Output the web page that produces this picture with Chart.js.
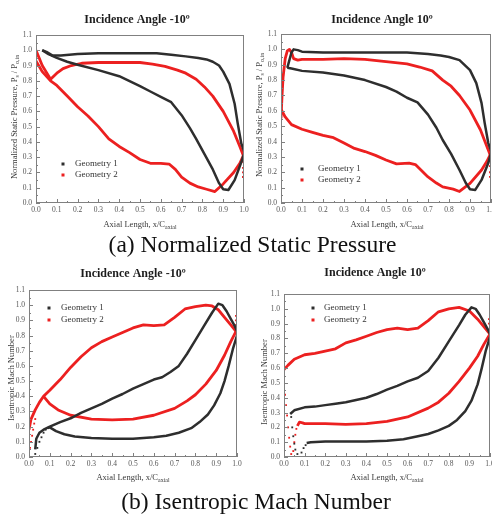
<!DOCTYPE html>
<html>
<head>
<meta charset="utf-8">
<script src="https://cdn.jsdelivr.net/npm/chart.js@4.4.1/dist/chart.umd.min.js"></script>
<style>
html, body { margin: 0; padding: 0; background: #fff; overflow: hidden; }
#wrap { position: relative; width: 492px; height: 515px; overflow: hidden; }
.panel { position: absolute; }
.cap { position: absolute; left: 0; text-align: center; font-family: "Liberation Serif", serif;
       font-size: 23.5px; line-height: 26px; color: #111; white-space: nowrap; }
</style>
</head>
<body>
<div id="wrap">
  <canvas class="panel" id="pA1" width="256" height="240" style="left:0;top:0"></canvas>
  <canvas class="panel" id="pA2" width="260" height="240" style="left:246px;top:0"></canvas>
  <canvas class="panel" id="pB1" width="256" height="232" style="left:0;top:258px"></canvas>
  <canvas class="panel" id="pB2" width="260" height="232" style="left:246px;top:258px"></canvas>
  <div class="cap" style="top:231px;width:505px">(a) Normalized Static Pressure</div>
  <div class="cap" style="top:488px;width:512px">(b) Isentropic Mach Number</div>
</div>
<script>
// tick labels
var xTickLabels = ['0.0', '0.1', '0.2', '0.3', '0.4', '0.5', '0.6', '0.7', '0.8', '0.9', '1.0'];
var yTickLabels = ['0.0', '0.1', '0.2', '0.3', '0.4', '0.5', '0.6', '0.7', '0.8', '0.9', '1.0', '1.1'];
var seriesNames = ['Geometry 1', 'Geometry 2'];

// (a) Normalized static pressure, incidence -10
var a1Geo1Upper = [[0.03,1.0],[0.05,0.99],[0.08,0.965],[0.12,0.965],[0.2,0.975],[0.3,0.98],[0.4,0.98],[0.5,0.98],[0.58,0.98],[0.65,0.97],[0.72,0.96],[0.78,0.95],[0.82,0.94],[0.85,0.925],[0.88,0.9],[0.9,0.86],[0.93,0.78],[0.955,0.65],[0.97,0.52],[0.987,0.39],[1.0,0.34]];
var a1Geo1Lower = [[0.03,1.0],[0.06,0.975],[0.1,0.95],[0.15,0.925],[0.2,0.905],[0.3,0.87],[0.4,0.83],[0.5,0.765],[0.55,0.73],[0.6,0.695],[0.65,0.66],[0.7,0.575],[0.74,0.49],[0.77,0.42],[0.81,0.32],[0.85,0.22],[0.88,0.13],[0.9,0.09],[0.925,0.085],[0.955,0.15],[0.985,0.26],[1.0,0.32]];
var a1Geo2Upper = [[0.0,1.0],[0.03,0.9],[0.07,0.81],[0.1,0.85],[0.13,0.88],[0.17,0.9],[0.22,0.915],[0.3,0.92],[0.4,0.92],[0.5,0.92],[0.56,0.91],[0.62,0.895],[0.68,0.87],[0.72,0.85],[0.77,0.81],[0.81,0.76],[0.85,0.7],[0.9,0.6],[0.95,0.47],[0.98,0.37],[1.0,0.3]];
var a1Geo2Lower = [[0.0,0.93],[0.03,0.86],[0.07,0.8],[0.1,0.77],[0.15,0.7],[0.2,0.63],[0.25,0.57],[0.3,0.5],[0.35,0.42],[0.4,0.37],[0.45,0.33],[0.5,0.285],[0.55,0.26],[0.6,0.26],[0.64,0.255],[0.67,0.22],[0.7,0.17],[0.74,0.13],[0.78,0.105],[0.82,0.09],[0.86,0.075],[0.9,0.125],[0.95,0.2],[0.98,0.26],[1.0,0.32]];
var a1Geo2Dots = [[0.995,0.27],[0.995,0.23],[0.995,0.2],[0.995,0.17]];

// (a) Normalized static pressure, incidence 10
var a2Geo1Upper = [[0.03,0.88],[0.04,0.93],[0.05,0.98],[0.06,1.0],[0.08,0.995],[0.1,0.985],[0.2,0.98],[0.3,0.98],[0.4,0.98],[0.5,0.98],[0.6,0.98],[0.7,0.97],[0.76,0.96],[0.8,0.95],[0.85,0.93],[0.9,0.865],[0.93,0.78],[0.955,0.65],[0.97,0.52],[0.987,0.39],[1.0,0.34]];
var a2Geo1Lower = [[0.03,0.88],[0.05,0.875],[0.1,0.86],[0.2,0.85],[0.3,0.83],[0.4,0.8],[0.5,0.755],[0.55,0.725],[0.6,0.685],[0.65,0.655],[0.7,0.575],[0.74,0.49],[0.77,0.41],[0.81,0.32],[0.85,0.215],[0.88,0.13],[0.9,0.09],[0.925,0.085],[0.955,0.15],[0.987,0.26],[1.0,0.325]];
var a2Geo2Upper = [[0.0,0.55],[0.005,0.7],[0.01,0.82],[0.02,0.94],[0.03,0.99],[0.04,1.0],[0.05,0.98],[0.06,0.94],[0.08,0.93],[0.1,0.935],[0.2,0.935],[0.3,0.94],[0.4,0.935],[0.5,0.92],[0.6,0.905],[0.66,0.885],[0.72,0.86],[0.77,0.8],[0.81,0.76],[0.85,0.7],[0.9,0.605],[0.95,0.475],[0.98,0.37],[1.0,0.3]];
var a2Geo2Lower = [[0.0,0.61],[0.02,0.56],[0.05,0.51],[0.1,0.48],[0.15,0.46],[0.2,0.44],[0.25,0.425],[0.3,0.39],[0.35,0.355],[0.4,0.335],[0.45,0.31],[0.5,0.28],[0.55,0.255],[0.61,0.26],[0.64,0.25],[0.67,0.21],[0.7,0.17],[0.74,0.13],[0.77,0.105],[0.82,0.09],[0.85,0.075],[0.9,0.128],[0.955,0.215],[0.98,0.27],[1.0,0.325]];
var a2Geo2Dots = [[0.995,0.28],[0.995,0.24],[0.995,0.2],[0.995,0.17]];

// (b) Isentropic Mach number, incidence -10
var b1Geo1Upper = [[0.03,0.05],[0.035,0.12],[0.05,0.16],[0.07,0.18],[0.1,0.2],[0.15,0.23],[0.2,0.255],[0.25,0.29],[0.3,0.32],[0.35,0.35],[0.4,0.385],[0.45,0.415],[0.5,0.45],[0.55,0.48],[0.6,0.51],[0.64,0.525],[0.68,0.56],[0.72,0.6],[0.76,0.68],[0.8,0.77],[0.84,0.86],[0.88,0.95],[0.91,1.01],[0.93,1.0],[0.95,0.96],[0.97,0.91],[0.99,0.86],[1.0,0.83]];
var b1Geo1Lower = [[0.09,0.19],[0.1,0.195],[0.13,0.17],[0.17,0.15],[0.22,0.135],[0.3,0.125],[0.4,0.12],[0.5,0.12],[0.6,0.13],[0.66,0.14],[0.72,0.16],[0.78,0.19],[0.82,0.23],[0.86,0.28],[0.89,0.34],[0.92,0.42],[0.94,0.5],[0.96,0.6],[0.98,0.71],[1.0,0.8]];
var b1Geo1Dots = [[0.02,0.0],[0.03,0.02],[0.04,0.06],[0.05,0.1],[0.06,0.13],[0.07,0.16],[0.08,0.18]];
var b1Geo2Upper = [[0.0,0.18],[0.01,0.25],[0.03,0.31],[0.05,0.36],[0.07,0.4],[0.1,0.44],[0.15,0.51],[0.2,0.59],[0.25,0.66],[0.3,0.72],[0.35,0.76],[0.4,0.79],[0.45,0.82],[0.5,0.85],[0.55,0.87],[0.6,0.865],[0.65,0.87],[0.7,0.92],[0.75,0.975],[0.8,0.99],[0.85,1.0],[0.88,0.995],[0.91,0.97],[0.94,0.92],[0.97,0.87],[1.0,0.82]];
var b1Geo2Lower = [[0.07,0.4],[0.1,0.35],[0.14,0.31],[0.2,0.275],[0.3,0.25],[0.4,0.245],[0.5,0.25],[0.6,0.275],[0.7,0.32],[0.76,0.37],[0.8,0.41],[0.85,0.48],[0.9,0.57],[0.94,0.67],[0.97,0.76],[1.0,0.84]];
var b1Geo2Dots = [[0.0,0.02],[0.005,0.06],[0.01,0.1],[0.015,0.14],[0.02,0.18],[0.025,0.22],[0.03,0.25],[0.995,0.93],[0.995,0.9],[0.99,0.87]];

// (b) Isentropic Mach number, incidence 10
var b2Geo1Upper = [[0.03,0.29],[0.05,0.315],[0.1,0.335],[0.15,0.34],[0.2,0.35],[0.25,0.36],[0.3,0.37],[0.35,0.385],[0.4,0.4],[0.45,0.425],[0.5,0.455],[0.55,0.48],[0.6,0.51],[0.65,0.535],[0.7,0.58],[0.75,0.67],[0.8,0.78],[0.85,0.89],[0.88,0.96],[0.91,1.01],[0.93,1.0],[0.95,0.96],[0.97,0.91],[0.99,0.86],[1.0,0.83]];
var b2Geo1Lower = [[0.11,0.095],[0.13,0.1],[0.2,0.105],[0.3,0.105],[0.4,0.105],[0.5,0.11],[0.58,0.12],[0.65,0.14],[0.7,0.155],[0.75,0.18],[0.8,0.21],[0.84,0.25],[0.88,0.31],[0.91,0.38],[0.94,0.49],[0.96,0.6],[0.98,0.72],[1.0,0.81]];
var b2Geo1Dots = [[0.035,0.27],[0.04,0.2],[0.045,0.14],[0.05,0.09],[0.055,0.05],[0.065,0.02],[0.075,0.0],[0.085,0.03],[0.095,0.06],[0.105,0.08]];
var b2Geo2Upper = [[0.0,0.59],[0.02,0.62],[0.05,0.66],[0.1,0.69],[0.15,0.7],[0.2,0.715],[0.25,0.73],[0.3,0.77],[0.35,0.79],[0.4,0.815],[0.45,0.84],[0.5,0.86],[0.55,0.87],[0.6,0.86],[0.65,0.87],[0.7,0.92],[0.75,0.98],[0.8,1.0],[0.85,1.01],[0.9,0.985],[0.94,0.93],[0.97,0.88],[1.0,0.83]];
var b2Geo2Lower = [[0.065,0.21],[0.075,0.235],[0.09,0.23],[0.1,0.225],[0.2,0.225],[0.3,0.22],[0.4,0.225],[0.5,0.24],[0.6,0.27],[0.7,0.33],[0.75,0.37],[0.8,0.43],[0.85,0.51],[0.9,0.6],[0.94,0.68],[0.97,0.76],[1.0,0.83]];
var b2Geo2Dots = [[0.0,0.5],[0.005,0.42],[0.01,0.35],[0.015,0.28],[0.02,0.2],[0.025,0.13],[0.03,0.07],[0.035,0.02],[0.04,0.0],[0.045,0.04],[0.05,0.1],[0.055,0.15],[0.06,0.19],[0.995,0.93],[0.995,0.9]];

var GEO1 = '#2e2e2e';
var GEO2 = '#ec2020';
var SERIF = '"Liberation Serif", "Times New Roman", serif';

var pressureTitle = [{ t: 'Normalized Static Pressure, P' }, { t: 's', sub: true }, { t: ' / P' }, { t: 'o,in', sub: true }];
var machTitle = [{ t: 'Isentropic Mach Number' }];
var xTitle = [{ t: 'Axial Length, x/C' }, { t: 'axial', sub: true }];

// layout of each panel, in canvas pixels
var panels = {
    pA1: { title: 'Incidence Angle -10\u00ba', yTitle: pressureTitle, pad: { top: 35, right: 12 }, yw: 36, xh: 37,
           titlePos: [137, 20], xTitlePos: [140, 225], yTitlePos: [15, 117], legend: [63, 75, 164, 11] },
    pA2: { title: 'Incidence Angle 10\u00ba', yTitle: pressureTitle, pad: { top: 34, right: 15 }, yw: 35, xh: 37,
           titlePos: [136, 20], xTitlePos: [141, 225], yTitlePos: [14, 115], legend: [56, 72, 169, 11] },
    pB1: { title: 'Incidence Angle -10\u00ba', yTitle: machTitle, pad: { top: 32, right: 19 }, yw: 29, xh: 33,
           titlePos: [133, 16], xTitlePos: [133, 220], yTitlePos: [12, 120], legend: [49, 61, 50, 12] },
    pB2: { title: 'Incidence Angle 10\u00ba', yTitle: machTitle, pad: { top: 36, right: 16 }, yw: 38, xh: 33,
           titlePos: [129, 15], xTitlePos: [141, 220], yTitlePos: [19, 124], legend: [67, 78, 50, 12] }
};

function pts(arr) {
    return arr.map(function (p) { return { x: p[0], y: p[1] }; });
}

function lineSet(arr, color) {
    return { data: pts(arr), showLine: true, borderColor: color, borderWidth: color === GEO2 ? 2.8 : 2.5,
             pointRadius: 0, borderJoinStyle: 'round', fill: false };
}

function dotSet(arr, color) {
    return { data: pts(arr), showLine: false, pointStyle: 'rect', pointRadius: 1.3,
             backgroundColor: color, borderWidth: 0 };
}

// draw text with subscript parts, centred on (cx, cy)
function drawRich(ctx, parts, cx, cy, size) {
    var w = 0;
    parts.forEach(function (p) {
        ctx.font = (p.sub ? size * 0.7 : size) + 'px ' + SERIF;
        p.w = ctx.measureText(p.t).width;
        w += p.w;
    });
    var x = cx - w / 2;
    ctx.textAlign = 'left';
    ctx.textBaseline = 'middle';
    parts.forEach(function (p) {
        ctx.font = (p.sub ? size * 0.7 : size) + 'px ' + SERIF;
        ctx.fillText(p.t, x, p.sub ? cy + size * 0.3 : cy);
        x += p.w;
    });
}

var panelDecor = {
    id: 'panelDecor',
    afterDraw: function (chart) {
        var cfg = panels[chart.canvas.id];
        var ctx = chart.ctx, a = chart.chartArea;
        var xs = chart.scales.x, ys = chart.scales.y;
        ctx.save();

        // frame
        ctx.strokeStyle = '#808080';
        ctx.lineWidth = 1;
        ctx.strokeRect(Math.round(a.left) + 0.5, Math.round(a.top) + 0.5, Math.round(a.width) - 1, Math.round(a.height) - 1);

        // inward ticks, major and minor
        ctx.beginPath();
        var xv = xTickLabels.map(parseFloat), yv = yTickLabels.map(parseFloat);
        xv.forEach(function (v, i) {
            var px = Math.round(xs.getPixelForValue(v)) + 0.5;
            ctx.moveTo(px, a.bottom); ctx.lineTo(px, a.bottom - 4);
            if (i < xv.length - 1) {
                var mx = Math.round(xs.getPixelForValue((v + xv[i + 1]) / 2)) + 0.5;
                ctx.moveTo(mx, a.bottom); ctx.lineTo(mx, a.bottom - 2);
            }
        });
        yv.forEach(function (v, i) {
            var py = Math.round(ys.getPixelForValue(v)) + 0.5;
            ctx.moveTo(a.left, py); ctx.lineTo(a.left + 4, py);
            if (i < yv.length - 1) {
                var my = Math.round(ys.getPixelForValue((v + yv[i + 1]) / 2)) + 0.5;
                ctx.moveTo(a.left, my); ctx.lineTo(a.left + 2, my);
            }
        });
        ctx.stroke();

        // title
        ctx.fillStyle = '#1c1c1c';
        ctx.font = 'bold 12px ' + SERIF;
        ctx.textAlign = 'center';
        ctx.textBaseline = 'middle';
        ctx.fillText(cfg.title, cfg.titlePos[0], cfg.titlePos[1]);

        // axis titles
        ctx.fillStyle = '#3a3a3a';
        drawRich(ctx, xTitle.map(function (p) { return { t: p.t, sub: p.sub }; }), cfg.xTitlePos[0], cfg.xTitlePos[1], 8.5);
        ctx.save();
        ctx.translate(cfg.yTitlePos[0], cfg.yTitlePos[1]);
        ctx.rotate(-Math.PI / 2);
        drawRich(ctx, cfg.yTitle.map(function (p) { return { t: p.t, sub: p.sub }; }), 0, 0, 8.5);
        ctx.restore();

        // legend
        var lg = cfg.legend;
        [GEO1, GEO2].forEach(function (c, i) {
            var y = lg[2] + i * lg[3];
            ctx.fillStyle = c;
            ctx.fillRect(lg[0] - 1.5, y - 1.5, 3, 3);
            ctx.fillStyle = '#333';
            ctx.font = '9px ' + SERIF;
            ctx.textAlign = 'left';
            ctx.textBaseline = 'middle';
            ctx.fillText(seriesNames[i], lg[1], y);
        });
        ctx.restore();
    }
};

function makePanel(id, sets) {
    var cfg = panels[id];
    var tickFont = { family: SERIF, size: 7.5 };
    var ctx = document.getElementById(id).getContext('2d');
    return new Chart(ctx, {
        type: 'scatter',
        data: { datasets: sets },
        plugins: [panelDecor],
        options: {
            responsive: false,
            animation: false,
            devicePixelRatio: 1,
            layout: { padding: { top: cfg.pad.top, right: cfg.pad.right, left: 0, bottom: 0 } },
            plugins: { legend: { display: false }, tooltip: { enabled: false } },
            scales: {
                x: {
                    type: 'linear', min: 0, max: 1,
                    afterBuildTicks: function (s) { s.ticks = xTickLabels.map(function (t) { return { value: parseFloat(t) }; }); },
                    afterFit: function (s) { s.height = cfg.xh; s.paddingLeft = 0; s.paddingRight = 0; },
                    ticks: { callback: function (v) { return v.toFixed(1); }, font: tickFont, color: '#555', padding: 3,
                             autoSkip: false, maxRotation: 0 },
                    grid: { display: false, drawTicks: false },
                    border: { display: false }
                },
                y: {
                    type: 'linear', min: 0, max: 1.1,
                    afterBuildTicks: function (s) { s.ticks = yTickLabels.map(function (t) { return { value: parseFloat(t) }; }); },
                    afterFit: function (s) { s.width = cfg.yw; s.paddingTop = 0; s.paddingBottom = 0; },
                    ticks: { callback: function (v) { return v.toFixed(1); }, font: tickFont, color: '#555', padding: 4,
                             autoSkip: false },
                    grid: { display: false, drawTicks: false },
                    border: { display: false }
                }
            }
        }
    });
}

makePanel('pA1', [lineSet(a1Geo1Upper, GEO1), lineSet(a1Geo1Lower, GEO1),
                  lineSet(a1Geo2Upper, GEO2), lineSet(a1Geo2Lower, GEO2), dotSet(a1Geo2Dots, GEO2)]);
makePanel('pA2', [lineSet(a2Geo1Upper, GEO1), lineSet(a2Geo1Lower, GEO1),
                  lineSet(a2Geo2Upper, GEO2), lineSet(a2Geo2Lower, GEO2), dotSet(a2Geo2Dots, GEO2)]);
makePanel('pB1', [lineSet(b1Geo1Upper, GEO1), lineSet(b1Geo1Lower, GEO1), dotSet(b1Geo1Dots, GEO1),
                  lineSet(b1Geo2Upper, GEO2), lineSet(b1Geo2Lower, GEO2), dotSet(b1Geo2Dots, GEO2)]);
makePanel('pB2', [lineSet(b2Geo1Upper, GEO1), lineSet(b2Geo1Lower, GEO1), dotSet(b2Geo1Dots, GEO1),
                  lineSet(b2Geo2Upper, GEO2), lineSet(b2Geo2Lower, GEO2), dotSet(b2Geo2Dots, GEO2)]);
</script>
</body>
</html>
